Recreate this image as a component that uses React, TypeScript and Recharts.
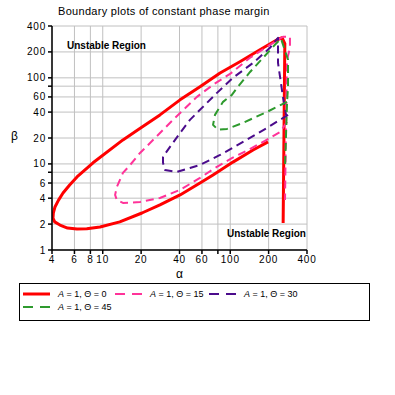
import { LineChart, Line, XAxis, YAxis, CartesianGrid } from "recharts";

// boundary curves (alpha, beta)
const ALPHA_0 = [198, 151, 105, 73.3, 57.9, 40.4, 28.1, 20.3, 13.6, 9.52, 7.5, 6.28, 5.3, 4.62, 4.2, 4.07, 4.1, 4.22, 4.5, 4.88, 5.5, 6.28, 8.39, 14.4, 18.9, 28.1, 40.4, 57.9, 83.2, 119, 171, 233, 255, 268, 260];
const BETA_0 = [18, 14.5, 10.5, 7.45, 6.01, 4.36, 3.34, 2.69, 2.12, 1.85, 1.77, 1.75, 1.8, 1.95, 2.12, 2.35, 2.7, 3.16, 3.8, 4.6, 5.7, 7.06, 10.3, 19, 24.9, 37.1, 55.5, 78.6, 114, 154, 212, 277, 292, 250, 2.06];

const ALPHA_15 = [279, 246, 187, 138, 103, 75.9, 57.9, 40.4, 28.1, 19.6, 14.4, 12.9, 12.5, 12.9, 14.4, 16.4, 19.6, 23.5, 35.6, 54.8, 73.3, 99.6, 143, 205, 259, 294, 294, 279, 274, 269];
const BETA_15 = [30.8, 23.5, 18.5, 14.5, 11.7, 8.98, 6.87, 4.99, 4.02, 3.61, 3.52, 3.81, 4.36, 5.4, 7.86, 9.73, 13.4, 17.5, 32.5, 60.1, 83, 111, 171, 242, 300, 300, 223, 162, 32.5, 3.81];

const ALPHA_30 = [284, 194, 126, 83.2, 57.9, 48.3, 38.2, 30.8, 29.7, 29.7, 33.7, 40.4, 48.3, 61.1, 78.7, 105, 151, 205, 237, 237, 259, 274];
const BETA_30 = [37.1, 26.2, 18, 12.7, 9.73, 8.98, 8.07, 8.51, 10.3, 12.1, 15.8, 22.9, 32.5, 46, 66.9, 100, 149, 223, 292, 149, 60.1, 37.1];

const ALPHA_45 = [279, 194, 126, 94.3, 80.2, 73.3, 75.9, 87.8, 103, 113, 143, 181, 224, 250, 284, 284, 279, 269];
const BETA_45 = [52.6, 40.2, 30, 25.5, 24.9, 28.4, 37.1, 52.6, 63.4, 76.5, 117, 171, 242, 285, 162, 78.6, 52.6, 9.23];

const X_TICKS = [4, 6, 8, 10, 20, 40, 60, 80, 100, 200, 400];
const Y_TICKS = [1, 2, 4, 6, 8, 10, 20, 40, 60, 80, 100, 200, 400];
const UNLABELED = [80];
const UNLABELED_Y = [8, 80];

const zip = (a: number[], b: number[]) => a.map((v, i) => ({ a: v, b: b[i] }));

const SERIES = [
  { theta: 0, data: zip(ALPHA_0, BETA_0), color: "#ff0000", width: 3, dash: undefined },
  { theta: 15, data: zip(ALPHA_15, BETA_15), color: "#ff3399", width: 2, dash: "8 5" },
  { theta: 30, data: zip(ALPHA_30, BETA_30), color: "#4b0c8c", width: 2, dash: "8 5" },
  { theta: 45, data: zip(ALPHA_45, BETA_45), color: "#2e9a2e", width: 2, dash: "8 5" },
];

const FONT = "'Liberation Sans', Arial, sans-serif";
const xFmt = (v: number) => (UNLABELED.includes(v) ? "" : String(v));
const yFmt = (v: number) => (UNLABELED_Y.includes(v) ? "" : String(v));

function LegendItem({ s, left, top }: { s: (typeof SERIES)[number]; left: number; top: number }) {
  return (
    <div style={{ position: "absolute", left, top, height: 12, display: "flex", alignItems: "center", whiteSpace: "nowrap" }}>
      <svg width={28} height={6} style={{ marginRight: 7 }}>
        {s.dash ? (
          <>
            <line x1={0} y1={3} x2={10} y2={3} stroke={s.color} strokeWidth={2} />
            <line x1={17} y1={3} x2={27} y2={3} stroke={s.color} strokeWidth={2} />
          </>
        ) : (
          <line x1={0} y1={3} x2={27} y2={3} stroke={s.color} strokeWidth={3} />
        )}
      </svg>
      <span style={{ fontSize: 9, fontFamily: FONT }}>
        <i>A</i> = 1, Θ = {s.theta}
      </span>
    </div>
  );
}

export default function App() {
  return (
    <div style={{ position: "absolute", left: 0, top: 0, width: 395, height: 395, background: "#fff", fontFamily: FONT }}>
      <LineChart width={395} height={395} margin={{ top: 26, right: 88, bottom: 115, left: 0 }}>
        <CartesianGrid stroke="#c0c0c0" strokeWidth={1} />
        <XAxis
          type="number"
          dataKey="a"
          scale="log"
          domain={[4, 400]}
          ticks={X_TICKS}
          interval={0}
          tickFormatter={xFmt}
          allowDataOverflow
          height={30}
          tickSize={4}
          tickMargin={2}
          stroke="#000"
          strokeWidth={1.5}
          tick={{ fill: "#000", fontSize: 10, fontFamily: FONT, letterSpacing: 0.8 }}
        />
        <YAxis
          type="number"
          dataKey="b"
          scale="log"
          domain={[1, 400]}
          ticks={Y_TICKS}
          interval={0}
          tickFormatter={yFmt}
          allowDataOverflow
          width={52}
          tickSize={4}
          tickMargin={2}
          stroke="#000"
          strokeWidth={1.5}
          tick={{ fill: "#000", fontSize: 10, fontFamily: FONT, letterSpacing: 0.8 }}
        />
        {SERIES.map((s) => (
          <Line
            key={s.theta}
            data={s.data}
            dataKey="b"
            type="linear"
            stroke={s.color}
            strokeWidth={s.width}
            strokeDasharray={s.dash}
            strokeLinejoin="round"
            dot={false}
            isAnimationActive={false}
          />
        ))}
      </LineChart>

      <div style={{ position: "absolute", left: 58, top: 5, fontSize: 11, letterSpacing: 0.3 }}>
        Boundary plots of constant phase margin
      </div>
      <div style={{ position: "absolute", left: 67, top: 40, fontSize: 10, fontWeight: "bold" }}>Unstable Region</div>
      <div style={{ position: "absolute", left: 227, top: 228, fontSize: 10, fontWeight: "bold" }}>Unstable Region</div>
      <div style={{ position: "absolute", left: 11, top: 129, fontSize: 12 }}>β</div>
      <div style={{ position: "absolute", left: 176, top: 267, fontSize: 12 }}>α</div>

      <div style={{ position: "absolute", left: 19, top: 283, width: 349, height: 36, border: "1px solid #000" }}>
        <LegendItem s={SERIES[0]} left={3} top={4} />
        <LegendItem s={SERIES[1]} left={95} top={4} />
        <LegendItem s={SERIES[2]} left={189} top={4} />
        <LegendItem s={SERIES[3]} left={3} top={17} />
      </div>
    </div>
  );
}
